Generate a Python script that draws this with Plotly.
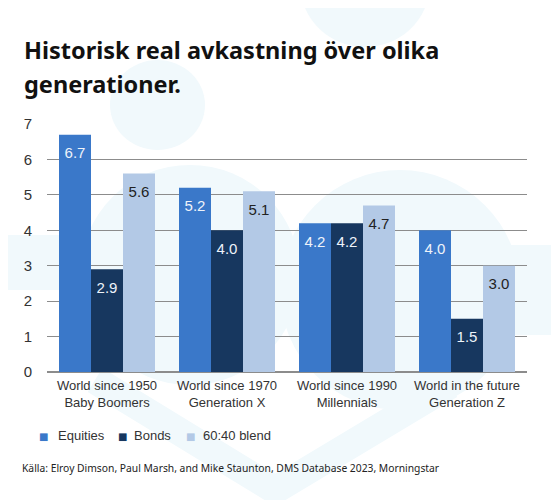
import plotly.graph_objects as go

# data
categories = [
    "World since 1950<br>Baby Boomers",
    "World since 1970<br>Generation X",
    "World since 1990<br>Millennials",
    "World in the future<br>Generation Z",
]
equities = [6.7, 5.2, 4.2, 4.0]
bonds = [2.9, 4.0, 4.2, 1.5]
blend = [5.6, 5.1, 4.7, 3.0]
series_names = ["Equities", "Bonds", "60:40 blend"]

TITLE_LINES = ["Historisk real avkastning över olika", "generationer."]
SOURCE = "Källa: Elroy Dimson, Paul Marsh, and Mike Staunton, DMS Database 2023, Morningstar"

COLORS = ["#3a78c9", "#17375f", "#b3c9e6"]
LABEL_COLORS = ["#eef3fa", "#eef3fa", "#222222"]
BG_SHAPE = "#f1f9fc"

# the page body adds an 8px margin, so the figure is drawn 8px smaller
OFF = 8
W, H = 559 - OFF, 500 - OFF
L, R, T, B = 47 - OFF, 32, 124 - OFF, 128


def px(x):
    return (x - OFF - L) / (W - L - R)


def py(y):
    return (H - B - (y - OFF)) / (H - T - B)


fig = go.Figure()

for i, (name, vals) in enumerate(zip(series_names, [equities, bonds, blend])):
    fig.add_trace(go.Bar(
        x=categories, y=vals, name=name, offsetgroup=str(i),
        marker=dict(color=COLORS[i], line_width=0),
        hoverinfo="skip", showlegend=False,
    ))
    # value labels sit a little below the top of each bar
    fig.add_trace(go.Scatter(
        x=categories, y=vals, offsetgroup=str(i), mode="markers+text",
        marker=dict(size=18, color="rgba(0,0,0,0)"),
        text=[f"{v:.1f}" for v in vals], textposition="bottom center",
        textfont=dict(family="Liberation Sans, Arial, sans-serif", size=15,
                      color=LABEL_COLORS[i]),
        showlegend=False, hoverinfo="skip", cliponaxis=False,
    ))

# faint decorative logo shapes in the background
shapes = []
for x0, y0, x1, y1 in [(300, -80, 430, 47), (110, 60, 205, 150),
                       (80, 165, 300, 385), (280, 170, 520, 410)]:
    shapes.append(dict(type="circle", xref="paper", yref="paper",
                       x0=px(x0), x1=px(x1), y0=py(y1), y1=py(y0),
                       fillcolor=BG_SHAPE, line_width=0, layer="below"))
for x0, y0, x1, y1 in [(-5, 235, 70, 290), (470, 245, 570, 335)]:
    shapes.append(dict(type="rect", xref="paper", yref="paper",
                       x0=px(x0), x1=px(x1), y0=py(y1), y1=py(y0),
                       fillcolor=BG_SHAPE, line_width=0, layer="below"))
shapes.append(dict(type="path", xref="paper", yref="paper", layer="below",
                   path=f"M {px(95)},{py(380)} L {px(275)},{py(490)} L {px(450)},{py(385)}",
                   line=dict(color=BG_SHAPE, width=28)))

TITLE_FONT = dict(family="Noto Sans, Open Sans, sans-serif", size=23.5, color="#111111")
annotations = [
    dict(text=f"<b>{TITLE_LINES[0]}</b>", x=px(22), y=py(50), font=TITLE_FONT),
    dict(text=f"<b>{TITLE_LINES[1]}</b>", x=px(22), y=py(84), font=TITLE_FONT),
    dict(text=SOURCE, x=px(20), y=py(468),
         font=dict(family="Noto Sans, Open Sans, sans-serif", size=10.3, color="#222222")),
]
# hand-drawn compact legend: small square, then the series name
for name, color, xs, xt in zip(series_names, COLORS, [43.5, 122.5, 190.5], [56, 132, 201]):
    annotations.append(dict(text="■", x=px(xs), y=py(436), xanchor="center",
                            font=dict(family="DejaVu Sans", size=10, color=color)))
    annotations.append(dict(text=name, x=px(xt), y=py(435), xanchor="left",
                            font=dict(family="Liberation Sans, Arial, sans-serif",
                                      size=13, color="#333333")))
for a in annotations:
    a.setdefault("xanchor", "left")
    a.update(xref="paper", yref="paper", yanchor="middle", showarrow=False)

fig.update_layout(
    width=W, height=H,
    margin=dict(l=L, r=R, t=T, b=B),
    paper_bgcolor="white", plot_bgcolor="rgba(0,0,0,0)",
    barmode="group", bargap=0.2, bargroupgap=0,
    scattermode="group", scattergap=0.2,
    font=dict(family="Liberation Sans, Arial, sans-serif", color="#333333"),
    showlegend=False,
    shapes=shapes,
    annotations=annotations,
)
fig.update_xaxes(tickfont=dict(size=13, color="#333333"), showgrid=False,
                 showline=False, ticks="", ticklabelstandoff=4)
fig.update_yaxes(range=[0, 7], dtick=1, showgrid=True, gridcolor="#8c8c8c", gridwidth=1,
                 zeroline=True, zerolinecolor="#8c8c8c", zerolinewidth=1.5,
                 showline=False, ticks="", ticklabelstandoff=14,
                 tickfont=dict(size=15, color="#333333"))

fig.write_html("out.html")
